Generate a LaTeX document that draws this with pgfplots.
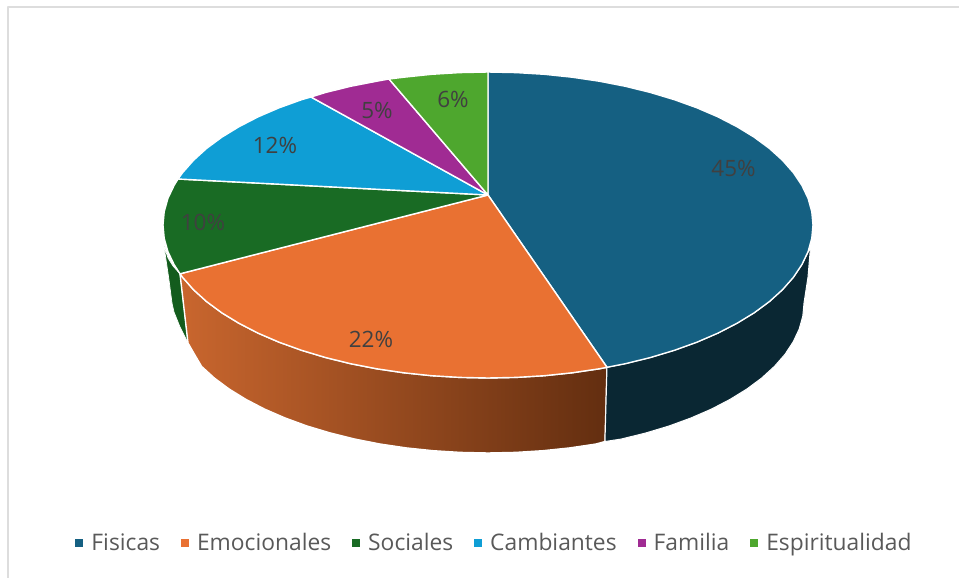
\documentclass[border=0pt]{standalone}
\usepackage{fontspec}
\setmainfont{Open Sans}
\usepackage{pgfplots}
\pgfplotsset{compat=1.18}
\definecolor{cBlue}{HTML}{156082}
\definecolor{cOrange}{HTML}{E97132}
\definecolor{cDGreen}{HTML}{196B24}
\definecolor{cLBlue}{HTML}{0F9ED5}
\definecolor{cPurple}{HTML}{A02B93}
\definecolor{cGreen}{HTML}{4EA72E}
\definecolor{sBlue}{HTML}{0A2733}
\definecolor{sDGreen}{HTML}{135C1D}
\definecolor{sOrL}{HTML}{C9662E}
\definecolor{sOrR}{HTML}{632E10}
\definecolor{lab}{HTML}{404040}
\definecolor{legt}{HTML}{595959}
\definecolor{frame}{HTML}{DDDDDD}
\begin{document}
\begin{tikzpicture}
\useasboundingbox (0,0) rectangle (959pt,578pt);
\begin{axis}[
  scale only axis, width=959pt, height=578pt,
  xmin=0, xmax=959, ymin=0, ymax=578, y dir=reverse,
  hide axis, clip=false,
  legend columns=6,
  legend cell align=left,
  legend style={at={(axis cs:494.5,543)}, anchor=center, draw=none, fill=none,
    font=\fontsize{22.8pt}{26pt}\selectfont\color{legt},
    /tikz/every even column/.append style={column sep=19pt},
    /tikz/every odd column/.append style={column sep=6pt}},
  legend image code/.code={\fill[#1,draw=none] (0pt,-4pt) rectangle (8pt,4pt);},
  every axis plot/.append style={line join=round},
]
% frame
\addplot[frame, line width=1.6pt, forget plot] coordinates {(8,578) (8,7) (959,7)};
% sides
\addplot[draw=white, line width=0.7pt, fill=sDGreen, forget plot] coordinates {
 (164,246) (168,258) (173,266) (180,273.8) (188,343) (180,327) (174,312) (172,303) (169,280)} -- cycle;
\addplot[draw=white, line width=1.4pt, left color=sOrL, right color=sOrR, forget plot] coordinates {
 (180,273.8) (182.6,277.3) (193.5,289.7) (206.5,301.5) (221.8,312.8) (239,323.3) (258.2,333.2)
 (279.1,342.2) (301.6,350.3) (325.5,357.5) (350.6,363.7) (376.8,368.8) (403.9,372.8) (431.6,375.7)
 (459.7,377.4) (488,378) (516.3,377.4) (544.4,375.7) (572.1,372.8) (599.2,368.8) (607,367.3)
 (605,441.5) (596.1,444) (569.8,447.9) (542.9,450.7) (515.5,452.4) (488,453) (460.5,452.4)
 (433.1,450.7) (406.2,447.9) (379.9,444) (354.5,439) (330,432.9) (306.7,425.9) (284.9,417.9)
 (264.6,409.1) (246,399.4) (229.1,389) (214.3,378) (201.6,366.4) (194,353.5) (188,343)} -- cycle;
\addplot[draw=white, line width=1pt, fill=sBlue, forget plot] coordinates {
 (607,367.3) (625.4,363.7) (650.5,357.5) (674.4,350.3) (696.9,342.2) (717.8,333.2) (737,323.3)
 (754.2,312.8) (769.5,301.5) (782.5,289.7) (793.4,277.3) (801.9,264.6) (810.5,247)
 (808,277) (804,303) (802.8,316.1) (799.2,329) (793.2,341.8) (785,354.3) (774.4,366.4)
 (761.7,378) (746.9,389) (730,399.4) (711.4,409.1) (691.1,417.9) (669.3,425.9) (646,432.9)
 (621.5,439) (605,441.5)} -- cycle;
% top faces
\addplot[draw=white, line width=1.4pt, fill=cBlue] coordinates {
 (488,195) (488,72) (516.3,72.6) (544.4,74.3) (572.1,77.2) (599.2,81.2) (625.4,86.3) (650.5,92.5)
 (674.4,99.7) (696.9,107.8) (717.8,116.8) (737,126.7) (754.2,137.2) (769.5,148.5) (782.5,160.3)
 (793.4,172.7) (801.9,185.4) (808.1,198.4) (811.8,211.7) (813,225) (811.8,238.3) (808.1,251.6)
 (801.9,264.6) (793.4,277.3) (782.5,289.7) (769.5,301.5) (754.2,312.8) (737,323.3) (717.8,333.2)
 (696.9,342.2) (674.4,350.3) (650.5,357.5) (625.4,363.7) (607,367.3)} -- cycle;
\addlegendentry{Fisicas}
\addplot[draw=white, line width=1.4pt, fill=cOrange] coordinates {
 (488,195) (607,367.3) (599.2,368.8) (572.1,372.8) (544.4,375.7) (516.3,377.4) (488,378) (459.7,377.4)
 (431.6,375.7) (403.9,372.8) (376.8,368.8) (350.6,363.7) (325.5,357.5) (301.6,350.3) (279.1,342.2)
 (258.2,333.2) (239,323.3) (221.8,312.8) (206.5,301.5) (193.5,289.7) (182.6,277.3) (180,273.8)} -- cycle;
\addlegendentry{Emocionales}
\addplot[draw=white, line width=1.4pt, fill=cDGreen] coordinates {
 (488,195) (180,273.8) (174.1,264.6) (167.9,251.6) (164.2,238.3) (163,225) (164.2,211.7)
 (167.9,198.4) (174.1,185.4) (178,179)} -- cycle;
\addlegendentry{Sociales}
\addplot[draw=white, line width=1.4pt, fill=cLBlue] coordinates {
 (488,195) (178,179) (182.6,172.7) (193.5,160.3) (206.5,148.5) (221.8,137.2) (239,126.7) (258.2,116.8)
 (279.1,107.8) (301.6,99.7) (311,97)} -- cycle;
\addlegendentry{Cambiantes}
\addplot[draw=white, line width=1.4pt, fill=cPurple] coordinates {
 (488,195) (311,97) (325.5,92.5) (350.6,86.3) (376.8,81.2) (389,79)} -- cycle;
\addlegendentry{Familia}
\addplot[draw=white, line width=1.4pt, fill=cGreen] coordinates {
 (488,195) (389,79) (403.9,77.2) (431.6,74.3) (459.7,72.6) (488,72)} -- cycle;
\addlegendentry{Espiritualidad}
% data labels
\begin{scope}[every node/.style={font=\fontsize{22.5pt}{26pt}\selectfont, text=lab, inner sep=0pt, anchor=center}]
\node at (axis cs:733.5,168) {45\%};
\node at (axis cs:371,339.5) {22\%};
\node at (axis cs:203,222) {10\%};
\node at (axis cs:275,145.5) {12\%};
\node at (axis cs:377,110) {5\%};
\node at (axis cs:453,99.5) {6\%};
\end{scope}
\end{axis}
\end{tikzpicture}
\end{document}
